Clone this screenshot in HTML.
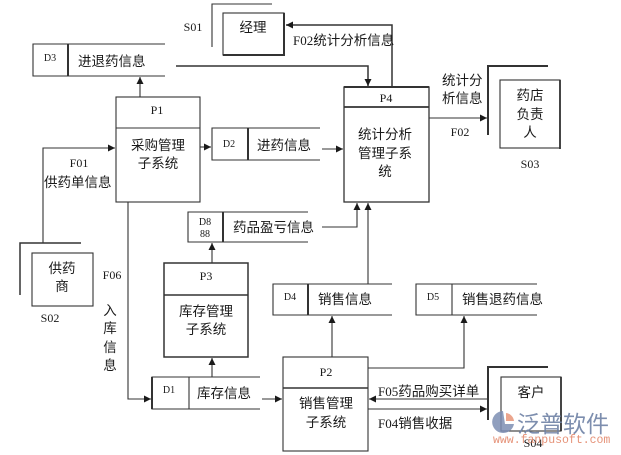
<!DOCTYPE html>
<html><head><meta charset="utf-8"><style>
html,body{margin:0;padding:0;background:#fff;}
svg{display:block;}
.c{font-family:"Liberation Sans","Noto Sans CJK SC",sans-serif;font-size:13.5px;fill:#1a1a1a;}
.l{font-family:"Liberation Serif","Noto Sans CJK SC",serif;font-size:12px;fill:#1a1a1a;}
.s{font-size:10px;}
.m{text-anchor:middle;}
</style></head><body>
<svg width="621" height="455" viewBox="0 0 621 455" xmlns="http://www.w3.org/2000/svg">
<defs>
<marker id="a" markerWidth="8" markerHeight="8" refX="7" refY="3.5" orient="auto" markerUnits="userSpaceOnUse"><path d="M0,0 L7,3.5 L0,7 z" fill="#1a1a1a"/></marker>
</defs>
<g fill="none" stroke="#333" stroke-width="1.1">
<!-- S01 / 经理 -->
<polyline points="272,4 212,4 212,47"/>
<rect x="223" y="13" width="61" height="42"/>
<line x1="284" y1="13" x2="284" y2="56" stroke-width="2"/>
<line x1="223" y1="55" x2="285" y2="55" stroke-width="2"/>
<polyline points="392,87 392,25 286,25" marker-end="url(#a)" stroke-width="1.5"/>
<!-- line to P4 top -->
<polyline points="176,66 368,66 368,86" marker-end="url(#a)" stroke-width="1.5"/>
<!-- D3 -->
<polyline points="165,44 33,44 33,76 165,76"/>
<line x1="68" y1="44" x2="68" y2="76" stroke-width="2"/>
<line x1="140" y1="97" x2="140" y2="77" marker-end="url(#a)"/>
<!-- P1 -->
<rect x="116" y="97" width="84" height="105"/>
<line x1="116" y1="128" x2="200" y2="128"/>
<line x1="200" y1="147" x2="211" y2="147" marker-end="url(#a)"/>
<!-- D2 -->
<polyline points="320,128 212,128 212,160 320,160"/>
<line x1="248" y1="128" x2="248" y2="160" stroke-width="2"/>
<line x1="322" y1="149" x2="343" y2="149" marker-end="url(#a)"/>
<!-- F01 -->
<polyline points="43,243 43,148 115,148" marker-end="url(#a)"/>
<!-- S02 -->
<polyline points="81,243 20,243 20,295" stroke-width="1.5"/>
<rect x="32" y="253" width="61" height="53"/>
<!-- F06 -->
<polyline points="128,202 128,399 151,399" marker-end="url(#a)"/>
<!-- D1 -->
<polyline points="260,377 152,377 152,409 260,409"/>
<line x1="152" y1="377" x2="152" y2="409" stroke-width="2"/>
<line x1="189" y1="377" x2="189" y2="409"/>
<line x1="212" y1="377" x2="212" y2="358" marker-end="url(#a)"/>
<!-- P3 -->
<rect x="164" y="263" width="84" height="94" stroke-width="1.5"/>
<line x1="164" y1="295" x2="248" y2="295" stroke-width="1.5"/>
<line x1="212" y1="263" x2="212" y2="243" marker-end="url(#a)"/>
<!-- D8 -->
<polyline points="308,212 188,212 188,242 308,242"/>
<line x1="223" y1="212" x2="223" y2="242" stroke-width="2"/>
<polyline points="322,227 357,227 357,203" marker-end="url(#a)"/>
<line x1="368" y1="284" x2="368" y2="203" marker-end="url(#a)"/>
<!-- P4 -->
<rect x="344" y="87" width="85" height="115" stroke-width="1.3"/>
<line x1="344" y1="87" x2="429" y2="87" stroke-width="2"/>
<line x1="344" y1="107" x2="429" y2="107" stroke-width="1.8"/>
<line x1="429" y1="118" x2="487" y2="118" marker-end="url(#a)"/>
<!-- S03 -->
<polyline points="548,66 488,66 488,135" stroke-width="2"/>
<rect x="500" y="80" width="60" height="68"/>
<line x1="560" y1="80" x2="560" y2="149" stroke-width="1.8"/>
<!-- D4 -->
<polyline points="392,284 273,284 273,315 392,315"/>
<line x1="308" y1="284" x2="308" y2="315" stroke-width="2"/>
<line x1="332" y1="357" x2="332" y2="316" marker-end="url(#a)"/>
<!-- D5 -->
<polyline points="537,284 416,284 416,315 537,315"/>
<line x1="452" y1="284" x2="452" y2="315"/>
<polyline points="368,368 464,368 464,316" marker-end="url(#a)"/>
<!-- P2 -->
<rect x="283" y="357" width="85" height="94"/>
<line x1="283" y1="388" x2="368" y2="388" stroke-width="1.5"/>
<line x1="262" y1="399" x2="282" y2="399" marker-end="url(#a)"/>
<line x1="488" y1="399" x2="369" y2="399" marker-end="url(#a)"/>
<line x1="368" y1="409" x2="487" y2="409" marker-end="url(#a)"/>
<!-- S04 -->
<polyline points="548,367 488,367 488,420" stroke-width="2"/>
<rect x="501" y="377" width="60" height="54"/>
<line x1="561" y1="377" x2="561" y2="431" stroke-width="1.8"/>
</g>

<!-- Texts -->
<text class="l m" x="193" y="31">S01</text>
<text class="c m" x="253" y="32">经理</text>
<text class="c" x="293" y="45"><tspan class="l" style="font-size:13px">F02</tspan>统计分析信息</text>

<text class="l m s" x="50" y="61">D3</text>
<text class="c" x="78" y="66">进退药信息</text>

<text class="l m" x="157" y="114">P1</text>
<text class="c m" x="158" y="150">采购管理</text>
<text class="c m" x="158" y="168">子系统</text>

<text class="l m s" x="229" y="147">D2</text>
<text class="c" x="257" y="150">进药信息</text>

<text class="l m" x="79" y="167">F01</text>
<text class="c" x="44" y="187">供药单信息</text>

<text class="c m" x="62" y="273">供药</text>
<text class="c m" x="62" y="291">商</text>
<text class="l m" x="50" y="322">S02</text>

<text class="l m" x="112" y="279">F06</text>
<text class="c m" x="110" y="315">入</text>
<text class="c m" x="110" y="333">库</text>
<text class="c m" x="110" y="352">信</text>
<text class="c m" x="110" y="370">息</text>

<text class="l m s" x="169" y="393">D1</text>
<text class="c" x="197" y="398">库存信息</text>

<text class="l m" x="206" y="280">P3</text>
<text class="c m" x="206" y="316">库存管理</text>
<text class="c m" x="206" y="334">子系统</text>

<text class="l m s" x="205" y="225">D8</text>
<text class="l m s" x="205" y="237">88</text>
<text class="c" x="233" y="232">药品盈亏信息</text>

<text class="l m" x="386" y="102">P4</text>
<text class="c m" x="385" y="139">统计分析</text>
<text class="c m" x="385" y="158">管理子系</text>
<text class="c m" x="385" y="176">统</text>

<text class="c" x="442" y="85">统计分</text>
<text class="c" x="442" y="103">析信息</text>
<text class="l m" x="460" y="136">F02</text>

<text class="c m" x="530" y="100">药店</text>
<text class="c m" x="530" y="119">负责</text>
<text class="c m" x="530" y="137">人</text>
<text class="l m" x="530" y="168">S03</text>

<text class="l m s" x="290" y="300">D4</text>
<text class="c" x="318" y="304">销售信息</text>

<text class="l m s" x="433" y="300">D5</text>
<text class="c" x="462" y="304">销售退药信息</text>

<text class="l m" x="326" y="376">P2</text>
<text class="c m" x="326" y="408">销售管理</text>
<text class="c m" x="326" y="427">子系统</text>

<text class="c" x="378" y="396"><tspan class="l" style="font-size:13px">F05</tspan>药品购买详单</text>
<text class="c" x="378" y="428"><tspan class="l" style="font-size:13px">F04</tspan>销售收据</text>

<text class="c m" x="531" y="397">客户</text>
<text class="l m" x="533" y="447">S04</text>

<!-- watermark -->
<g opacity="0.85">
<path d="M503,411 A11,11 0 1,0 514,424 L505,424 Z" fill="#7d8fb3"/>
<path d="M506,413 A9,9 0 0,1 514,421 L506,421 Z" fill="#e8967a"/>
</g>
<text x="517" y="432" style="font-family:'Noto Sans CJK SC','WenQuanYi Zen Hei',sans-serif;font-size:23px;fill:#6f82a6;opacity:0.9">泛普软件</text>
<text x="493" y="443" style="font-family:'Liberation Mono',monospace;font-size:11.5px;fill:#e3876a;opacity:0.9">www.fanpusoft.com</text>
</svg>
</body></html>
